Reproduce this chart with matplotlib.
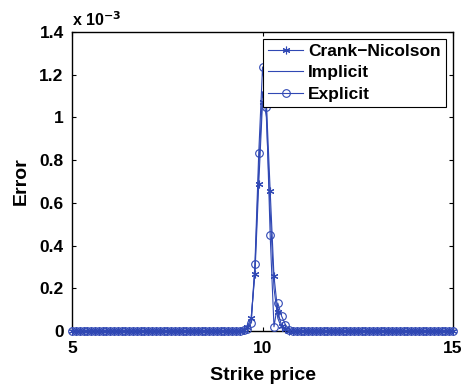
import numpy as np
import matplotlib.pyplot as plt

plt.rcParams['font.family'] = ['Liberation Sans', 'DejaVu Sans']
plt.rcParams['font.weight'] = 'bold'

# strike price grid (step 0.1)
strike = np.round(np.arange(5.0, 15.0001, 0.1), 2)

# errors (x 1e-3), around the strike 10 peak
peak_x = [9.5, 9.6, 9.7, 9.8, 9.9, 10.0, 10.1, 10.2, 10.3, 10.4, 10.5, 10.6, 10.7]
crank_peak = [0.005, 0.02, 0.06, 0.267, 0.688, 1.073, 1.07, 0.657, 0.257, 0.09, 0.025, 0.008, 0.002]
implicit_peak = [0.005, 0.015, 0.045, 0.29, 0.76, 1.12, 1.0, 0.56, 0.2, 0.06, 0.015, 0.004, 0.001]
explicit_peak = [0.003, 0.01, 0.037, 0.312, 0.833, 1.236, 1.05, 0.449, 0.02, 0.131, 0.07, 0.03, 0.005]


def full_series(vals):
    y = np.zeros(len(strike))
    for xv, v in zip(peak_x, vals):
        y[np.argmin(np.abs(strike - xv))] = v
    return y


blue = '#3048b4'
asterisk = (6, 2, 0)

fig = plt.figure(figsize=(4.68, 3.89), dpi=100)
ax = fig.add_axes([0.154, 0.149, 0.814, 0.769])

ax.plot(strike, full_series(crank_peak), color=blue, lw=0.8, marker=asterisk,
        ms=5.5, mew=0.8, label='Crank\u2212Nicolson', clip_on=False)
ax.plot(strike, full_series(implicit_peak), color=blue, lw=0.8, label='Implicit',
        clip_on=False)
ax.plot(strike, full_series(explicit_peak), color=blue, lw=0.8, marker='o',
        ms=5.5, mfc='none', mew=0.8, label='Explicit', clip_on=False)

ax.set_xlim(5, 15)
ax.set_ylim(0, 1.4)
ax.set_xticks([5, 10, 15])
ax.set_yticks([0, 0.2, 0.4, 0.6, 0.8, 1.0, 1.2, 1.4])
ax.set_yticklabels(['0', '0.2', '0.4', '0.6', '0.8', '1', '1.2', '1.4'])
ax.tick_params(direction='in', top=True, right=True, length=3, width=0.8,
               labelsize=12.5, pad=7)
ax.tick_params(axis='y', pad=6)
for lab in ax.get_xticklabels() + ax.get_yticklabels():
    lab.set_fontweight('bold')
for s in ax.spines.values():
    s.set_linewidth(1.0)
    s.set_zorder(0)

ax.set_xlabel('Strike price', fontsize=14, fontweight='bold', labelpad=8)
ax.set_ylabel('Error', fontsize=14, fontweight='bold', labelpad=7)
ax.text(0.0, 1.01, 'x 10$^{\\mathbf{-3}}$', transform=ax.transAxes,
        fontsize=11.5, fontweight='bold', ha='left', va='bottom')

leg = ax.legend(loc='upper right', prop={'weight': 'bold', 'size': 12.5},
                handlelength=2.0, handletextpad=0.3, labelspacing=0.35,
                borderpad=0.3, borderaxespad=0.4, fancybox=False, framealpha=1)
leg.get_frame().set_edgecolor('black')
leg.get_frame().set_linewidth(0.8)

fig.savefig('out.png', dpi=100)
